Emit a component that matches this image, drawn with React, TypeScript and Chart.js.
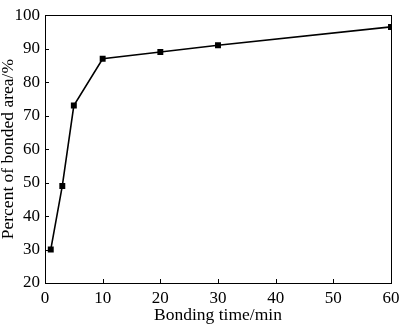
import React, { useEffect, useRef } from "react";
import { Chart, registerables } from "chart.js";

Chart.register(...registerables);

const bondingTime = [1, 3, 5, 10, 20, 30, 60];
const bondedPercent = [30, 49, 73, 87, 89, 91, 96.5];
const xTicks = [0, 10, 20, 30, 40, 50, 60];
const yTicks = [20, 30, 40, 50, 60, 70, 80, 90, 100];
const xTitle = "Bonding time/min";
const yTitle = "Percent of bonded area/%";

const FONT = "'Liberation Serif', 'Times New Roman', serif";

const frame = {
  id: "frame",
  afterDraw(chart: any) {
    const { ctx, chartArea } = chart;
    const { left, right, top, bottom } = chartArea;
    ctx.save();
    ctx.strokeStyle = "#000";
    ctx.lineWidth = 1;
    ctx.strokeRect(Math.round(left) + 0.5, Math.round(top) + 0.5, Math.round(right - left), Math.round(bottom - top));
    const xs = chart.scales.x;
    const ys = chart.scales.y;
    ctx.beginPath();
    xTicks.forEach((v) => {
      const px = Math.round(xs.getPixelForValue(v)) + 0.5;
      ctx.moveTo(px, bottom);
      ctx.lineTo(px, bottom - 4);
    });
    yTicks.forEach((v) => {
      const py = Math.round(ys.getPixelForValue(v)) + 0.5;
      ctx.moveTo(left, py);
      ctx.lineTo(left + 4, py);
    });
    ctx.stroke();
    ctx.restore();
  },
};

export default function App() {
  const ref = useRef<HTMLCanvasElement>(null);
  useEffect(() => {
    document.body.style.margin = "0";
    const chart = new Chart(ref.current!, {
      type: "line",
      data: {
        datasets: [
          {
            data: bondingTime.map((t, i) => ({ x: t, y: bondedPercent[i] })),
            borderColor: "#000",
            backgroundColor: "#000",
            borderWidth: 1.6,
            pointStyle: "rect",
            pointRadius: 4.2,
            pointBorderWidth: 0,
            tension: 0,
          },
        ],
      },
      options: {
        animation: false,
        responsive: false,
        maintainAspectRatio: false,
        layout: { padding: { left: 0, right: 9, top: 5, bottom: 0 } },
        plugins: { legend: { display: false }, tooltip: { enabled: false } },
        scales: {
          x: {
            type: "linear",
            min: 0,
            max: 60,
            afterBuildTicks: (s: any) => {
              s.ticks = xTicks.map((v) => ({ value: v }));
            },
            afterFit: (s: any) => {
              s.height = 42;
              s.paddingLeft = 0;
              s.paddingRight = 0;
            },
            grid: { display: false, drawTicks: false },
            border: { display: false },
            ticks: {
              color: "#000",
              font: { family: FONT, size: 17 },
              padding: 5,
              maxRotation: 0,
            },
            title: {
              display: true,
              text: xTitle,
              color: "#000",
              font: { family: FONT, size: 17.5 },
              padding: { top: 0, bottom: -1 },
            },
          },
          y: {
            type: "linear",
            min: 20,
            max: 100,
            afterBuildTicks: (s: any) => {
              s.ticks = yTicks.map((v) => ({ value: v }));
            },
            afterFit: (s: any) => {
              s.width = 45;
            },
            grid: { display: false, drawTicks: false },
            border: { display: false },
            ticks: {
              color: "#000",
              font: { family: FONT, size: 17 },
              padding: 5,
            },
            title: {
              display: true,
              text: yTitle,
              color: "#000",
              font: { family: FONT, size: 17.5 },
              padding: { top: -2, bottom: 0 },
            },
          },
        },
      },
      plugins: [frame],
    });
    return () => chart.destroy();
  }, []);
  return (
    <div style={{ position: "absolute", left: 0, top: 0, width: 400, height: 325 }}>
      <canvas ref={ref} width={400} height={325} style={{ width: 400, height: 325 }} />
    </div>
  );
}
